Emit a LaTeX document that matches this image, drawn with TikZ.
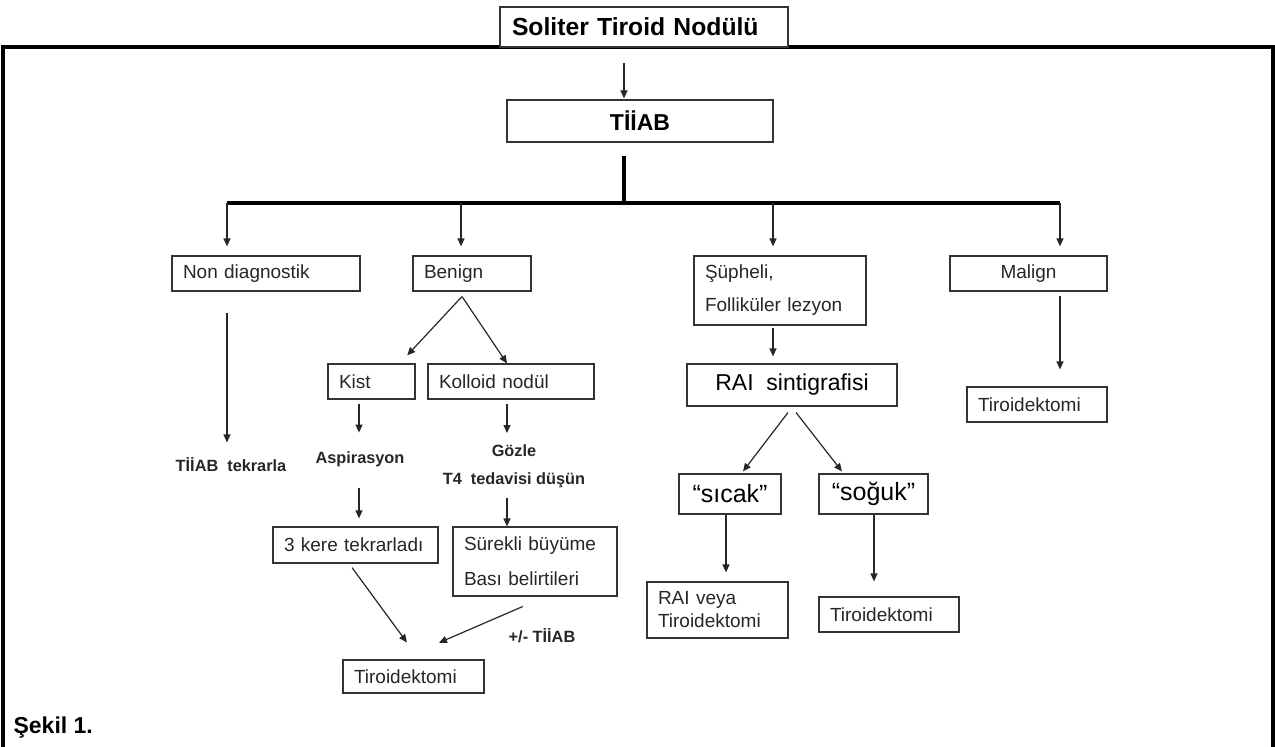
\documentclass[tikz,border=0pt]{standalone}
\usepackage{fontspec}
\setmainfont{Liberation Sans}
\usetikzlibrary{arrows.meta, positioning}
\colorlet{colorBox}{black!80}
\colorlet{colorLine}{black!85}
\newcommand{\fsNormal}{\fontsize{19}{23}\selectfont}
\newcommand{\fsNote}{\fontsize{16.3}{20}\selectfont}
\newcommand{\fsTitle}{\fontsize{24.7}{30}\selectfont}
\newcommand{\fsHead}{\fontsize{23}{28}\selectfont}
\newcommand{\fsQuote}{\fontsize{25}{30}\selectfont}
\tikzset{
  box/.style={draw=colorBox, line width=1.2pt, inner ysep=0pt, font=\fsNormal},
  leftbox/.style={box, align=left, inner xsep=11pt, text width=#1},
  midbox/.style={box, align=center, minimum width=#1},
  note/.style={inner sep=0pt, font=\fsNote\bfseries},
  bar/.style={line width=3.5pt, black},
  frame/.style={line width=3.5pt, black}
}

\begin{document}
\begin{tikzpicture}[x=1pt, y=-1pt, >={Triangle[width=7pt,length=8pt]}, line width=1.2pt, colorLine]
\useasboundingbox (0,0) rectangle (1275,747);
\draw[frame] (3,747) -- (3,47) -- (1273,47) -- (1273,747);
\node[leftbox=264pt, inner xsep=12pt, minimum height=40pt, fill=white, font=\fsTitle\bfseries, text=black] (title) at (644,27) {Soliter Tiroid Nodülü};
\node[midbox=266pt, minimum height=42pt, font=\fsHead\bfseries, text=black] (tiiab) at (640,121) {TİİAB};
\coordinate (hub) at (624,203);
\coordinate (d1) at (227,203);
\coordinate (d2) at (461,203);
\coordinate (d3) at (773,203);
\coordinate (d4) at (1060,203);
\node[leftbox=166pt, minimum height=35pt] (nondiag) at (266,273.5) {Non diagnostik};
\node[leftbox=96pt, minimum height=35pt] (benign) at (472,273.5) {Benign};
\node[leftbox=150pt, minimum height=69pt, font=\fontsize{19}{33}\selectfont] (supheli) at (780,290.5) {Şüpheli,\\Folliküler lezyon};
\node[midbox=157pt, minimum height=35pt] (malign) at (1028.5,273.5) {Malign};
\node[leftbox=65pt, minimum height=35pt] (kist) at (371.5,381.5) {Kist};
\node[leftbox=144pt, minimum height=35pt] (kolloid) at (511,381.5) {Kolloid nodül};
\node[midbox=210pt, minimum height=42pt, font=\fsHead, text=black] (rai) at (792,385) {RAI~~sintigrafisi};
\node[leftbox=118pt, minimum height=35pt] (tiroRight) at (1037,404.5) {Tiroidektomi};
\node[note, anchor=base] (tekrarla) at (231,471) {TİİAB~~tekrarla};
\node[note, anchor=base] (aspir) at (360,463) {Aspirasyon};
\node[note, anchor=north, align=center, font=\fontsize{16.3}{28}\selectfont\bfseries] (gozle) at (514,444) {Gözle\\T4~~tedavisi düşün};
\node[midbox=102pt, minimum height=40pt, font=\fsQuote, text=black] (sicak) at (730,494) {“sıcak”};
\node[midbox=109pt, minimum height=40pt, font=\fsQuote, text=black] (soguk) at (873.5,494) {“soğuk”};
\node[leftbox=143pt, minimum height=36pt] (tekrar3) at (355.5,545) {3 kere tekrarladı};
\node[leftbox=142pt, minimum height=69pt, font=\fontsize{19}{35}\selectfont] (surekli) at (535,561.5) {Sürekli büyüme\\Bası belirtileri};
\node[leftbox=119pt, minimum height=56pt] (raiveya) at (717.5,610) {RAI veya\\Tiroidektomi};
\node[leftbox=118pt, minimum height=35pt] (tiroCold) at (889,614.5) {Tiroidektomi};
\node[note, anchor=base] (plusminus) at (542,642) {+/- TİİAB};
\node[leftbox=119pt, minimum height=33pt] (tiroBottom) at (413.5,676.5) {Tiroidektomi};
\node[note, anchor=base west, font=\fontsize{23}{28}\selectfont\bfseries, text=black] (sekil) at (13,733) {Şekil 1.};
\draw [->, shorten <=15pt, shorten >=1pt] ([xshift=-20pt]title.south) -- ([xshift=-16pt]tiiab.north);
\draw [bar, shorten <=13pt] (tiiab.south -| hub) -- (hub);
\draw [bar] (d1) -- (d4);
\foreach \dropAt/\boxName in {d1/nondiag, d2/benign, d3/supheli, d4/malign}
  \draw [->, shorten >=9pt] (\dropAt) -- (\dropAt |- \boxName.north);
\draw [->, shorten <=21pt, shorten >=14pt] ([xshift=-39pt]nondiag.south) -- ([xshift=-4pt]tekrarla.north);
\draw [->, shorten <=7pt, shorten >=11pt] ([xshift=-5.4pt]benign.south) -- ([xshift=28.2pt]kist.north);
\draw [->, shorten <=6pt] ([xshift=-13.3pt]benign.south) -- ([xshift=-4pt]kolloid.north);
\draw [->, shorten <=4pt, shorten >=18pt] ([xshift=-12.5pt]kist.south) -- ([xshift=-1pt]aspir.north);
\draw [->, shorten <=21pt, shorten >=8pt] ([xshift=-1pt]aspir.south) -- ([xshift=3.5pt]tekrar3.north);
\draw [->, shorten <=4pt, shorten >=11pt] ([xshift=-4pt]kolloid.south) -- ([xshift=-7pt]gozle.north);
\draw [->, shorten <=10pt] ([xshift=-7pt]gozle.south) -- ([xshift=-28pt]surekli.north);
\draw [->, shorten <=5pt, shorten >=21pt] ([xshift=-6.4pt]tekrar3.south) -- ([xshift=5.8pt]tiroBottom.north);
\draw [->, shorten <=25pt, shorten >=42pt] ([xshift=10.7pt]surekli.south) -- ([xshift=-13.1pt]tiroBottom.north);
\draw [->, shorten <=2pt, shorten >=7pt] ([xshift=-7pt]supheli.south) -- ([xshift=-19pt]rai.north);
\draw [->, shorten <=7.5pt, shorten >=2.5pt] ([xshift=0.5pt]rai.south) -- ([xshift=11.5pt]sicak.north);
\draw [->, shorten <=7.5pt, shorten >=2.5pt] ([xshift=-0.6pt]rai.south) -- ([xshift=-30pt]soguk.north);
\draw [->, shorten >=9pt] ([xshift=-4pt]sicak.south) -- ([xshift=8.5pt]raiveya.north);
\draw [->, shorten >=15pt] ([xshift=0.5pt]soguk.south) -- ([xshift=-15pt]tiroCold.north);
\draw [->, shorten <=4pt, shorten >=17pt] ([xshift=31.5pt]malign.south) -- ([xshift=23pt]tiroRight.north);
\end{tikzpicture}
\end{document}
